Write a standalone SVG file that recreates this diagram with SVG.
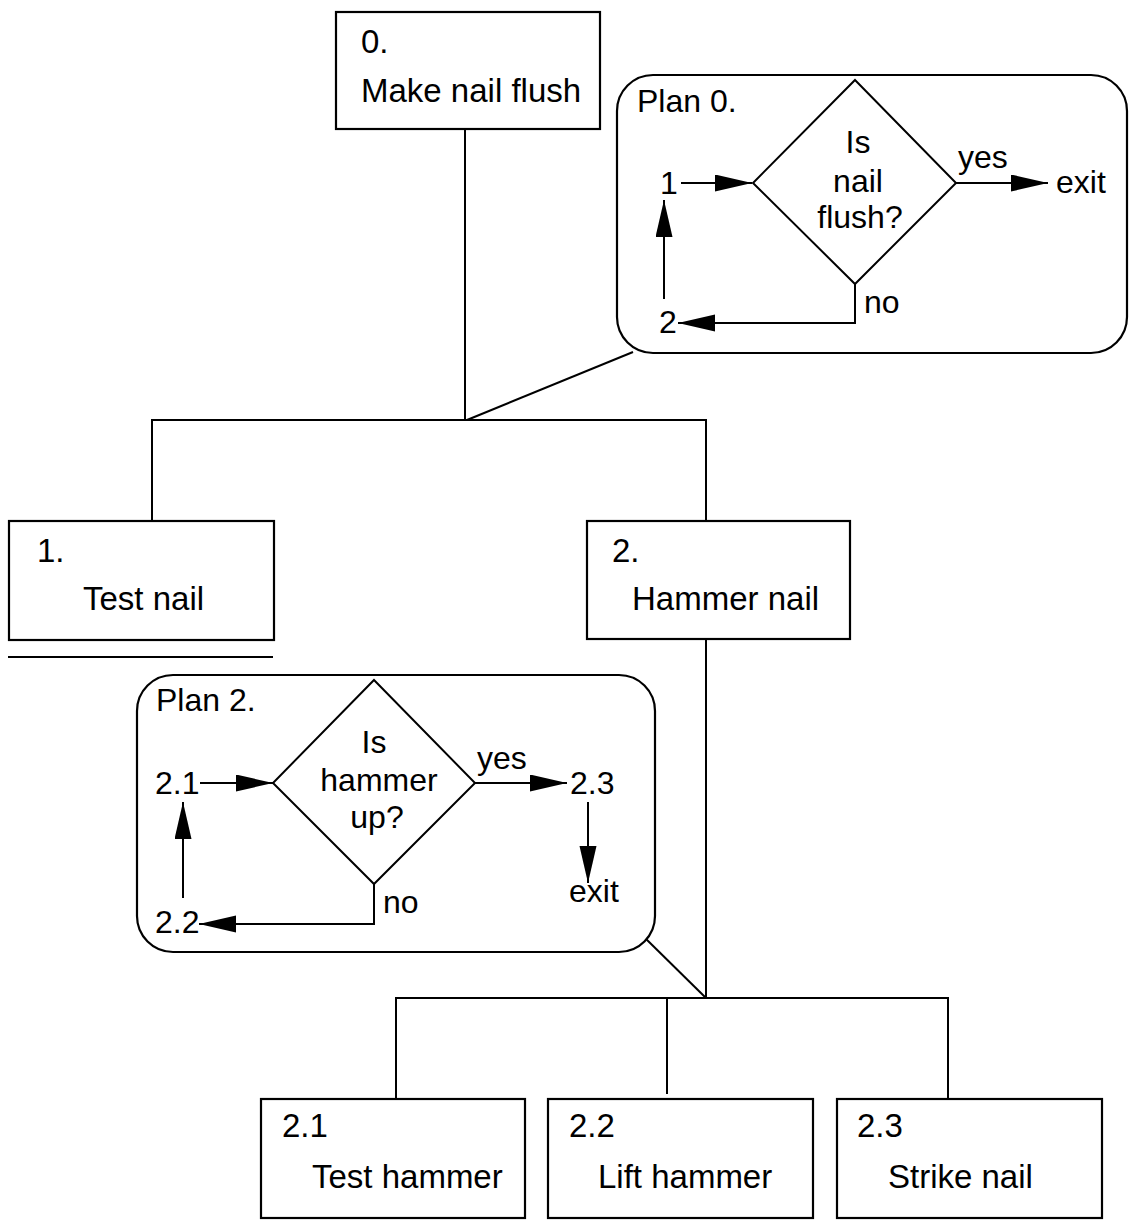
<svg xmlns="http://www.w3.org/2000/svg" width="1129" height="1231" viewBox="0 0 1129 1231">
<style>
.box{fill:#fff;stroke:#000;stroke-width:2.2}
.plan{fill:#fff;stroke:#000;stroke-width:2.2}
.ln{fill:none;stroke:#000;stroke-width:2}
.t{font-family:"Liberation Sans",Arial,sans-serif;font-size:33px;fill:#000}
.p{font-family:"Liberation Sans",Arial,sans-serif;font-size:32px;fill:#000}
.c{text-anchor:middle}
</style>
<defs>
<marker id="ah" markerUnits="userSpaceOnUse" markerWidth="38" markerHeight="18" refX="37" refY="8.5" orient="auto">
<path d="M0,0 L37,8.5 L0,17 z" fill="#000"/>
</marker>
</defs>
<rect width="1129" height="1231" fill="#fff"/>

<g id="connectors">
<path class="ln" d="M465,129 V420"/>
<path class="ln" d="M152,521 V420 H706 V521"/>
<path class="ln" d="M467,420 L633,352"/>
<path class="ln" d="M706,639 V998"/>
<path class="ln" d="M396,1099 V998 H948 V1099"/>
<path class="ln" d="M667,998 V1094"/>
<path class="ln" d="M643,936 L706,998"/>
<path class="ln" d="M8,657 H273"/>
</g>

<g id="node-0">
<rect class="box" x="336" y="12" width="264" height="117"/>
<text class="t" x="361" y="53">0.</text>
<text class="t" x="361" y="102">Make nail flush</text>
</g>

<g id="node-1">
<rect class="box" x="9" y="521" width="265" height="119"/>
<text class="t" x="37" y="562">1.</text>
<text class="t" x="83" y="610">Test nail</text>
</g>

<g id="node-2">
<rect class="box" x="587" y="521" width="263" height="118"/>
<text class="t" x="612" y="562">2.</text>
<text class="t" x="632" y="610">Hammer nail</text>
</g>

<g id="node-2-1">
<rect class="box" x="261" y="1099" width="264" height="119"/>
<text class="t" x="282" y="1137">2.1</text>
<text class="t" x="312" y="1188">Test hammer</text>
</g>

<g id="node-2-2">
<rect class="box" x="548" y="1099" width="265" height="119"/>
<text class="t" x="569" y="1137">2.2</text>
<text class="t" x="598" y="1188">Lift hammer</text>
</g>

<g id="node-2-3">
<rect class="box" x="837" y="1099" width="265" height="119"/>
<text class="t" x="857" y="1137">2.3</text>
<text class="t" x="888" y="1188">Strike nail</text>
</g>

<g id="plan-0">
<rect class="plan" x="617" y="75" width="510" height="278" rx="36" ry="36"/>
<text class="p" x="637" y="112">Plan 0.</text>
<polygon class="ln" points="855,80 956,183 855,284 753,183"/>
<text class="p c" x="858" y="153">Is</text>
<text class="p c" x="858" y="192">nail</text>
<text class="p c" x="860" y="228">flush?</text>
<text class="p" x="660" y="194">1</text>
<path class="ln" d="M681,183 H752" marker-end="url(#ah)"/>
<text class="p" x="958" y="168">yes</text>
<path class="ln" d="M956,183 H1048" marker-end="url(#ah)"/>
<text class="p" x="1056" y="193">exit</text>
<path class="ln" d="M664,299 V200" marker-end="url(#ah)"/>
<path class="ln" d="M855,284 V323 H678" marker-end="url(#ah)"/>
<text class="p" x="864" y="313">no</text>
<text class="p" x="659" y="333">2</text>
</g>

<g id="plan-2">
<rect class="plan" x="137" y="675" width="518" height="277" rx="36" ry="36"/>
<text class="p" x="156" y="711">Plan 2.</text>
<polygon class="ln" points="374,680 475,783 374,884 273,783"/>
<text class="p c" x="374" y="753">Is</text>
<text class="p c" x="379" y="791">hammer</text>
<text class="p c" x="377" y="828">up?</text>
<text class="p" x="155" y="794">2.1</text>
<path class="ln" d="M200,783 H273" marker-end="url(#ah)"/>
<text class="p" x="477" y="769">yes</text>
<path class="ln" d="M475,783 H567" marker-end="url(#ah)"/>
<text class="p" x="570" y="794">2.3</text>
<path class="ln" d="M588,802 V883" marker-end="url(#ah)"/>
<text class="p" x="569" y="902">exit</text>
<path class="ln" d="M183,898 V802" marker-end="url(#ah)"/>
<path class="ln" d="M374,884 V924 H199" marker-end="url(#ah)"/>
<text class="p" x="383" y="913">no</text>
<text class="p" x="155" y="933">2.2</text>
</g>
</svg>
